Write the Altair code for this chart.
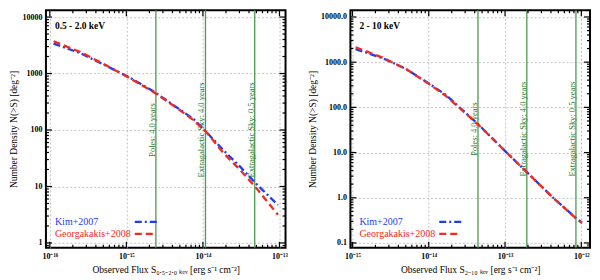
import altair as alt
import pandas as pd

FONT = "Liberation Serif"
W, H = 240, 238
BLUE = "#1f3cf5"
RED = "#f02a1e"
GREEN_LINE = "#4f9a4f"
GREEN_TEXT = "#1f7a1f"

series = ["Kim+2007", "Georgakakis+2008"]
series_colors = [BLUE, RED]
series_dashes = [[7, 3, 2, 3], [7, 4]]

# ---- 0.5 - 2.0 keV panel ----
soft_flux = [1.12e-16, 2.51e-16, 5.37e-16, 1.07e-15, 2.34e-15, 4.68e-15,
             7.59e-15, 1.10e-14, 1.86e-14, 3.02e-14, 4.79e-14, 9.55e-14]
soft_kim = [3390, 2290, 1380, 870, 468, 245, 155, 93, 43.6, 22.9, 11.7, 4.7]
soft_geo = [3720, 2400, 1410, 850, 457, 240, 148, 93, 39, 20, 10.0, 3.16]
soft_limits = [2.43e-15, 1.08e-14, 4.75e-14]
soft_x_ticks = [1e-16, 1e-15, 1e-14, 1e-13]
soft_x_labels = ["10⁻¹⁶", "10⁻¹⁵", "10⁻¹⁴", "10⁻¹³"]
soft_y_ticks = [1, 10, 100, 1000, 10000]
soft_y_labels = ["1", "10", "100", "1000", "10000"]
soft_xdom = [8.9e-17, 1.2e-13]
soft_ydom = [0.82, 13200]

# ---- 2 - 10 keV panel ----
hard_flux = [1.10e-15, 2.57e-15, 5.01e-15, 1.0e-14, 1.66e-14, 4.42e-14,
             7.24e-14, 1.02e-13, 1.95e-13, 4.27e-13, 8.51e-13, 1.02e-12]
hard_kim = [1950, 1200, 708, 339, 191, 42.7, 18.6, 10.5, 3.63, 1.0, 0.355, 0.28]
hard_geo = [2140, 1230, 708, 331, 182, 42.0, 18.6, 10.5, 3.6, 1.0, 0.35, 0.28]
hard_limits = [4.42e-14, 1.93e-13, 8.5e-13]
hard_x_ticks = [1e-15, 1e-14, 1e-13, 1e-12]
hard_x_labels = ["10⁻¹⁵", "10⁻¹⁴", "10⁻¹³", "10⁻¹²"]
hard_y_ticks = [0.1, 1, 10, 100, 1000, 10000]
hard_y_labels = ["0.1", "1.0", "10.0", "100.0", "1000.0", "10000.0"]
hard_xdom = [9.4e-16, 1.3e-12]
hard_ydom = [0.078, 14100]

limit_labels = ["Poles: 4.0 years", "Extragalactic Sky: 4.0 years",
                "Extragalactic Sky: 0.5 years"]

y_title = "Number Density  N(>S) [deg⁻²]"
soft_x_title = "Observed Flux  S₀.₅₋₂.₀ ₖₑᵥ [erg s⁻¹ cm⁻²]"
hard_x_title = "Observed Flux  S₂₋₁₀ ₖₑᵥ [erg s⁻¹ cm⁻²]"


def label_expr(values, labels):
    expr = "'" + labels[-1] + "'"
    for v, lab in reversed(list(zip(values[:-1], labels[:-1]))):
        expr = f"datum.value < {v * 3.16:.3e} ? '{lab}' : " + expr
    return expr


def minors(dom):
    out = []
    e = -20
    while e < 6:
        for m in range(2, 10):
            v = m * 10.0 ** e
            if dom[0] < v < dom[1]:
                out.append(v)
        e += 1
    return out


def axis(values, labels, title, orient):
    return alt.Axis(values=values, labelExpr=label_expr(values, labels), title=title,
                    grid=True, gridColor="#b4b4b4", gridDash=[2, 2], gridWidth=0.8,
                    ticks=False, domain=False, labelFont=FONT, labelFontSize=8,
                    labelFontWeight="bold", labelColor="black", labelFlush=False,
                    labelOverlap=False, labelPadding=(5 if orient == "x" else 4),
                    titleFont=FONT, titleFontSize=9.5, titleFontWeight="normal",
                    titleColor="black", titlePadding=(4 if orient == "x" else 3))


def panel(flux, kim, geo, xdom, ydom, xt, xl, yt, yl, xtitle, limits, band, label_y):
    xs = alt.Scale(type="log", domain=xdom, nice=False)
    ys = alt.Scale(type="log", domain=ydom, nice=False)
    df = pd.DataFrame({"S": flux + flux, "N": kim + geo,
                       "series": [series[0]] * len(flux) + [series[1]] * len(flux)})
    lines = alt.Chart(df).mark_line(strokeWidth=2.3, clip=True).encode(
        x=alt.X("S:Q", scale=xs, axis=axis(xt, xl, xtitle, "x")),
        y=alt.Y("N:Q", scale=ys, axis=axis(yt, yl, y_title, "y")),
        color=alt.Color("series:N", scale=alt.Scale(domain=series, range=series_colors), legend=None),
        strokeDash=alt.StrokeDash("series:N", scale=alt.Scale(domain=series, range=series_dashes), legend=None),
    )
    dl = pd.DataFrame({"S": limits, "label": limit_labels, "N": [label_y] * len(limits)})
    rules = alt.Chart(dl).mark_rule(color=GREEN_LINE, strokeWidth=1.3).encode(
        x=alt.X("S:Q", scale=xs))
    rtext = alt.Chart(dl).mark_text(angle=270, align="center", baseline="alphabetic", dy=-1,
                                    font=FONT, fontSize=8.5, color=GREEN_TEXT).encode(
        x=alt.X("S:Q", scale=xs), y=alt.Y("N:Q", scale=ys), text="label:N")

    layers = [rules, rtext, lines]
    # inside ticks on all four sides
    for vals, ln in ((xt, 6), (minors(xdom), 3)):
        d = pd.DataFrame({"S": [v for v in vals if xdom[0] < v < xdom[1]]})
        c = alt.Chart(d).mark_rule(color="black", strokeWidth=1.2)
        layers.append(c.encode(x=alt.X("S:Q", scale=xs), y=alt.value(0), y2=alt.value(ln)))
        layers.append(c.encode(x=alt.X("S:Q", scale=xs), y=alt.value(H), y2=alt.value(H - ln)))
    for vals, ln in ((yt, 6), (minors(ydom), 3)):
        d = pd.DataFrame({"N": [v for v in vals if ydom[0] < v < ydom[1]]})
        c = alt.Chart(d).mark_rule(color="black", strokeWidth=1.2)
        layers.append(c.encode(y=alt.Y("N:Q", scale=ys), x=alt.value(0), x2=alt.value(ln)))
        layers.append(c.encode(y=alt.Y("N:Q", scale=ys), x=alt.value(W), x2=alt.value(W - ln)))

    # band label
    layers.append(alt.Chart(pd.DataFrame({"t": [band]})).mark_text(
        align="left", baseline="middle", font=FONT, fontSize=9.5, fontWeight="bold",
        color="black").encode(x=alt.value(9), y=alt.value(16), text="t:N"))
    # legend
    for i, (name, col, dash) in enumerate(zip(series, series_colors, series_dashes)):
        yy = 212 + 12 * i
        layers.append(alt.Chart(pd.DataFrame({"t": [name]})).mark_text(
            align="left", baseline="middle", font=FONT, fontSize=10, color=col).encode(
            x=alt.value(9), y=alt.value(yy), text="t:N"))
        layers.append(alt.Chart(pd.DataFrame({"t": [name]})).mark_rule(
            color=col, strokeWidth=2.3, strokeDash=dash).encode(
            x=alt.value(89), x2=alt.value(111), y=alt.value(yy)))
    return alt.layer(*layers).properties(width=W, height=H)


left = panel(soft_flux, soft_kim, soft_geo, soft_xdom, soft_ydom, soft_x_ticks, soft_x_labels,
             soft_y_ticks, soft_y_labels, soft_x_title, soft_limits, "0.5 - 2.0 keV", 100)
right = panel(hard_flux, hard_kim, hard_geo, hard_xdom, hard_ydom, hard_x_ticks, hard_x_labels,
              hard_y_ticks, hard_y_labels, hard_x_title, hard_limits, "2 - 10 keV", 33)

chart = alt.hconcat(left, right, spacing=18).properties(padding=0).configure_view(
    stroke="black", strokeWidth=2)

chart.save("out.html", embed_options={"renderer": "svg", "actions": False})
